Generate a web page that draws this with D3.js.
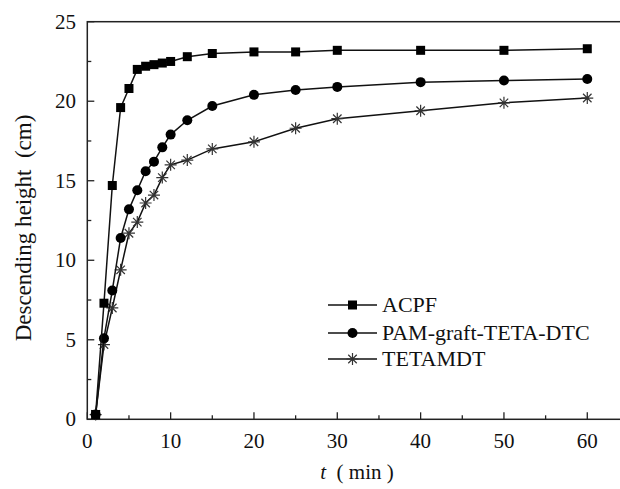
<!DOCTYPE html>
<html>
<head>
<meta charset="utf-8">
<script src="https://cdn.jsdelivr.net/npm/d3@7"></script>
<style>
  html, body { margin: 0; padding: 0; background: #fff; }
  svg { display: block; }
  text { font-family: "Liberation Serif", "Times New Roman", serif; fill: #111; }
</style>
</head>
<body>
<svg id="chart" width="620" height="489"></svg>
<script>
// ---- data ----
const times = [1, 2, 3, 4, 5, 6, 7, 8, 9, 10, 12, 15, 20, 25, 30, 40, 50, 60];
const acpf = [0.3, 7.3, 14.7, 19.6, 20.8, 22.0, 22.2, 22.3, 22.4, 22.5, 22.8, 23.0, 23.1, 23.1, 23.2, 23.2, 23.2, 23.3];
const pam = [0.3, 5.1, 8.1, 11.4, 13.2, 14.4, 15.6, 16.2, 17.1, 17.9, 18.8, 19.7, 20.4, 20.7, 20.9, 21.2, 21.3, 21.4];
const teta = [0.3, 4.7, 7.0, 9.4, 11.7, 12.4, 13.6, 14.1, 15.2, 16.0, 16.3, 17.0, 17.45, 18.3, 18.9, 19.4, 19.9, 20.2];
const seriesNames = ["ACPF", "PAM-graft-TETA-DTC", "TETAMDT"];
const seriesSymbols = ["square", "circle", "asterisk"];
const xTicks = [0, 10, 20, 30, 40, 50, 60];
const yTicks = [0, 5, 10, 15, 20, 25];
const xLabel = "( min )";
const xLabelItalic = "t";
const yLabel = "Descending height  (cm)";

const series = [acpf, pam, teta].map((vals, i) => ({
  name: seriesNames[i],
  symbol: seriesSymbols[i],
  points: times.map((t, j) => ({ t, v: vals[j] }))
}));

// ---- layout ----
const svg = d3.select("#chart");
const x = d3.scaleLinear().domain([0, 70]).range([87.3, 87.3 + 8.333 * 70]);
const y = d3.scaleLinear().domain([0, 25]).range([419.3, 21.7]);
const x0 = x(0), y0 = y(0), yTop = y(25), xRight = x(70);

// frame
svg.append("rect")
  .attr("x", x0).attr("y", yTop)
  .attr("width", xRight - x0).attr("height", y0 - yTop)
  .attr("fill", "none").attr("stroke", "#222").attr("stroke-width", 1.5);

// ticks (inward)
const xMinor = d3.range(5, 70, 10);
const yMinor = d3.range(2.5, 25, 5);
const tg = svg.append("g").attr("stroke", "#222").attr("stroke-width", 1.3);
xTicks.forEach(t => tg.append("line").attr("x1", x(t)).attr("x2", x(t)).attr("y1", y0).attr("y2", y0 - 7));
xMinor.forEach(t => tg.append("line").attr("x1", x(t)).attr("x2", x(t)).attr("y1", y0).attr("y2", y0 - 4));
yTicks.forEach(v => tg.append("line").attr("x1", x0).attr("x2", x0 + 7).attr("y1", y(v)).attr("y2", y(v)));
yMinor.forEach(v => tg.append("line").attr("x1", x0).attr("x2", x0 + 4).attr("y1", y(v)).attr("y2", y(v)));

// tick labels
svg.append("g").selectAll("text").data(xTicks).join("text")
  .attr("x", d => x(d)).attr("y", 448)
  .attr("text-anchor", "middle").attr("font-size", 21)
  .text(d => d);
svg.append("g").selectAll("text").data(yTicks).join("text")
  .attr("x", 76).attr("y", d => y(d) + 7)
  .attr("text-anchor", "end").attr("font-size", 21)
  .text(d => d);

// axis titles
const xt = svg.append("text").attr("x", 357).attr("y", 479)
  .attr("text-anchor", "middle").attr("font-size", 21)
  .attr("xml:space", "preserve").style("white-space", "pre");
xt.append("tspan").attr("font-style", "italic").text(xLabelItalic);
xt.append("tspan").text("  " + xLabel);

svg.append("text")
  .attr("transform", "translate(31,228) rotate(-90)")
  .attr("text-anchor", "middle").attr("font-size", 23)
  .attr("xml:space", "preserve")
  .style("white-space", "pre")
  .text(yLabel);

// markers
function drawSymbol(g, type, cx, cy) {
  if (type === "square") {
    g.append("rect").attr("x", cx - 4.5).attr("y", cy - 4.5).attr("width", 9).attr("height", 9).attr("fill", "#000");
  } else if (type === "circle") {
    g.append("circle").attr("cx", cx).attr("cy", cy).attr("r", 5).attr("fill", "#000");
  } else {
    const r = 6;
    const a = r * Math.cos(Math.PI / 4), b = r * Math.sin(Math.PI / 4);
    const p = `M${cx},${cy - r}L${cx},${cy + r}M${cx - a},${cy - b}L${cx + a},${cy + b}M${cx - a},${cy + b}L${cx + a},${cy - b}M${cx - r},${cy}L${cx + r},${cy}`;
    g.append("path").attr("d", p).attr("stroke", "#333").attr("stroke-width", 1.2).attr("fill", "none");
  }
}

const line = d3.line().x(d => x(d.t)).y(d => y(d.v));
// draw in reverse so ACPF sits on top
series.slice().reverse().forEach(s => {
  const g = svg.append("g");
  g.append("path").attr("d", line(s.points)).attr("fill", "none")
    .attr("stroke", "#111").attr("stroke-width", 1.5);
  s.points.forEach(p => drawSymbol(g, s.symbol, x(p.t), y(p.v)));
});

// legend
const legRows = [305, 333, 359];
series.forEach((s, i) => {
  const g = svg.append("g");
  const ly = legRows[i];
  g.append("line").attr("x1", 328).attr("x2", 377).attr("y1", ly).attr("y2", ly)
    .attr("stroke", "#111").attr("stroke-width", 1.5);
  drawSymbol(g, s.symbol, 352.5, ly);
  g.append("text").attr("x", 382).attr("y", ly + 7).attr("font-size", 22).text(s.name);
});
</script>
</body>
</html>
